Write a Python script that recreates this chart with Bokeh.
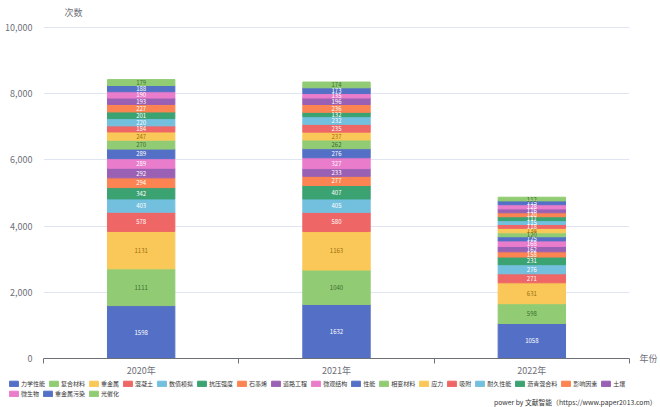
from bokeh.plotting import figure
from bokeh.layouts import column
from bokeh.models import (Range1d, FixedTicker, NumeralTickFormatter, Legend, LinearAxis,
                          LegendItem, Label, ColumnDataSource)
from bokeh.embed import file_html
from bokeh.resources import INLINE

# ---------------- data ----------------
years = ["2020年", "2021年", "2022年"]
series_names = ["力学性能", "复合材料", "重金属", "混凝土", "数值模拟", "抗压强度",
                "石墨烯", "道路工程", "微观结构", "性能", "相变材料", "应力", "吸附",
                "耐久性能", "沥青混合料", "影响因素", "土壤", "微生物", "重金属污染", "光催化"]
v2020 = [1598, 1111, 1131, 578, 403, 342, 294, 292, 289, 289, 270, 247, 184, 220, 201, 227, 193, 190, 188, 179]
v2021 = [1632, 1040, 1163, 580, 405, 407, 277, 233, 327, 276, 262, 237, 235, 232, 132, 236, 196, 135, 173, 174]
v2022 = [1058, 598, 631, 271, 276, 231, 158, 162, 168, 125, 120, 134, 118, 115, 117, 120, 116, 128, 115, 112]
y_ticks = [0, 2000, 4000, 6000, 8000, 10000]

# ---------------- styles ----------------
palette = ['#5470c6', '#91cc75', '#fac858', '#ee6666', '#73c0de', '#3ba272', '#fc8452', '#9a60b4', '#ea7ccc']
label_palette = ['#ffffff', '#3f6b2a', '#9a6f10', '#ffffff', '#ffffff', '#ffffff', '#ffffff', '#ffffff', '#ffffff']
colors = [palette[i % 9] for i in range(len(series_names))]
label_colors = [label_palette[i % 9] for i in range(len(series_names))]
FONT = "Noto Sans CJK SC"
AXIS_COLOR = "#6e7079"

values = [v2020, v2021, v2022]
xs = [i + 0.5 for i in range(len(years))]
keys = ["s%d" % i for i in range(len(series_names))]
data = {"x": xs}
for i, k in enumerate(keys):
    data[k] = [values[j][i] for j in range(len(years))]
src = ColumnDataSource(data)

# ---------------- main chart ----------------
FRAME_H = 358          # frame height in px (top of canvas down to the x axis)
TOP_GAP = 27           # px between canvas top and the 10,000 grid line
y_end = y_ticks[-1] * FRAME_H / (FRAME_H - TOP_GAP)

p = figure(width=660, height=379, output_backend="svg", toolbar_location=None,
           x_range=Range1d(0, len(years)), y_range=Range1d(0, y_end),
           min_border_left=43, min_border_right=27, min_border_top=0, min_border_bottom=21)
p.frame_align = False
p.outline_line_color = None
p.background_fill_color = "white"
p.border_fill_color = "white"

renderers = p.vbar_stack(keys, x="x", width=0.345, color=colors, source=src)

lx, ly, lt, lc = [], [], [], []
for j in range(len(years)):
    cum = 0
    for i in range(len(series_names)):
        v = values[j][i]
        lx.append(xs[j])
        ly.append(cum + v / 2)
        lt.append(str(v))
        lc.append(label_colors[i])
        cum += v
p.text(x=lx, y=ly, text=lt, text_color=lc, text_align="center", text_baseline="middle",
       text_font_size="6px", text_font={"value": FONT})

xa = p.xaxis[0]
xa.ticker = FixedTicker(ticks=xs, minor_ticks=list(range(len(years) + 1)))
xa.bounds = (0, len(years))
xa.major_label_overrides = {x: y for x, y in zip(xs, years)}
xa.major_tick_line_color = None
xa.major_tick_out = 0
xa.minor_tick_line_color = AXIS_COLOR
xa.minor_tick_out = 5
xa.minor_tick_in = 0
xa.axis_line_color = AXIS_COLOR
xa.major_label_text_color = AXIS_COLOR
xa.major_label_text_font_size = "9px"
xa.major_label_text_font = FONT
xa.major_label_standoff = 0

ya = p.yaxis[0]
ya.ticker = FixedTicker(ticks=y_ticks)
ya.formatter = NumeralTickFormatter(format="0,0")
ya.axis_line_color = None
ya.major_tick_line_color = None
ya.minor_tick_line_color = None
ya.major_label_text_color = AXIS_COLOR
ya.major_label_text_font_size = "9px"
ya.major_label_text_font = FONT
ya.major_label_standoff = 5

p.xgrid.grid_line_color = None
p.ygrid.grid_line_color = "#e0e6f1"

# y axis name above the top grid line
p.add_layout(Label(x=30, y=FRAME_H - 12, x_units="screen", y_units="screen", text="次数",
                   text_align="center", text_baseline="middle", text_font_size="9px",
                   text_color=AXIS_COLOR, text_font=FONT))

# x axis name at the right end of the x axis
name_axis = LinearAxis(ticker=FixedTicker(ticks=[0]), major_label_overrides={0: "年份"},
                       axis_line_color=None, major_tick_line_color=None, minor_tick_line_color=None,
                       major_tick_out=0, major_label_standoff=10,
                       major_label_text_color=AXIS_COLOR, major_label_text_font_size="9px",
                       major_label_text_font=FONT)
p.add_layout(name_axis, "right")

# ---------------- legend strip ----------------
q = figure(width=660, height=28, output_backend="svg", toolbar_location=None,
           x_range=Range1d(-3, -2), y_range=Range1d(0, 1),
           x_axis_location=None, y_axis_location=None, min_border=0)
q.frame_align = False
q.outline_line_color = None
q.xgrid.grid_line_color = None
q.ygrid.grid_line_color = None
q.border_fill_color = "white"

# same stacked series, kept out of view: they only provide the legend swatches
swatches = q.vbar_stack(keys, x="x", width=0.345, color=colors, source=src)
items = [LegendItem(label=series_names[i], renderers=[swatches[i]]) for i in range(len(series_names))]

def make_legend(its, loc):
    return Legend(items=its, orientation="horizontal", location=loc,
                  glyph_width=11, glyph_height=7, label_height=8, label_width=0,
                  label_text_font_size="6px", label_text_font=FONT, label_text_color="#333333",
                  label_standoff=2, spacing=3, padding=0, margin=0,
                  border_line_color=None, background_fill_alpha=0)

q.add_layout(make_legend(items[:17], (8, 19)), "center")
q.add_layout(make_legend(items[17:], (8, 9)), "center")
q.add_layout(Label(x=656, y=6, x_units="screen", y_units="screen",
                   text="power by 文献智能（https://www.paper2013.com）",
                   text_align="right", text_baseline="middle", text_font_size="6.8px",
                   text_color="#333333", text_font=FONT))

layout = column(p, q, spacing=0)
open("out.html", "w").write(file_html(layout, INLINE))
